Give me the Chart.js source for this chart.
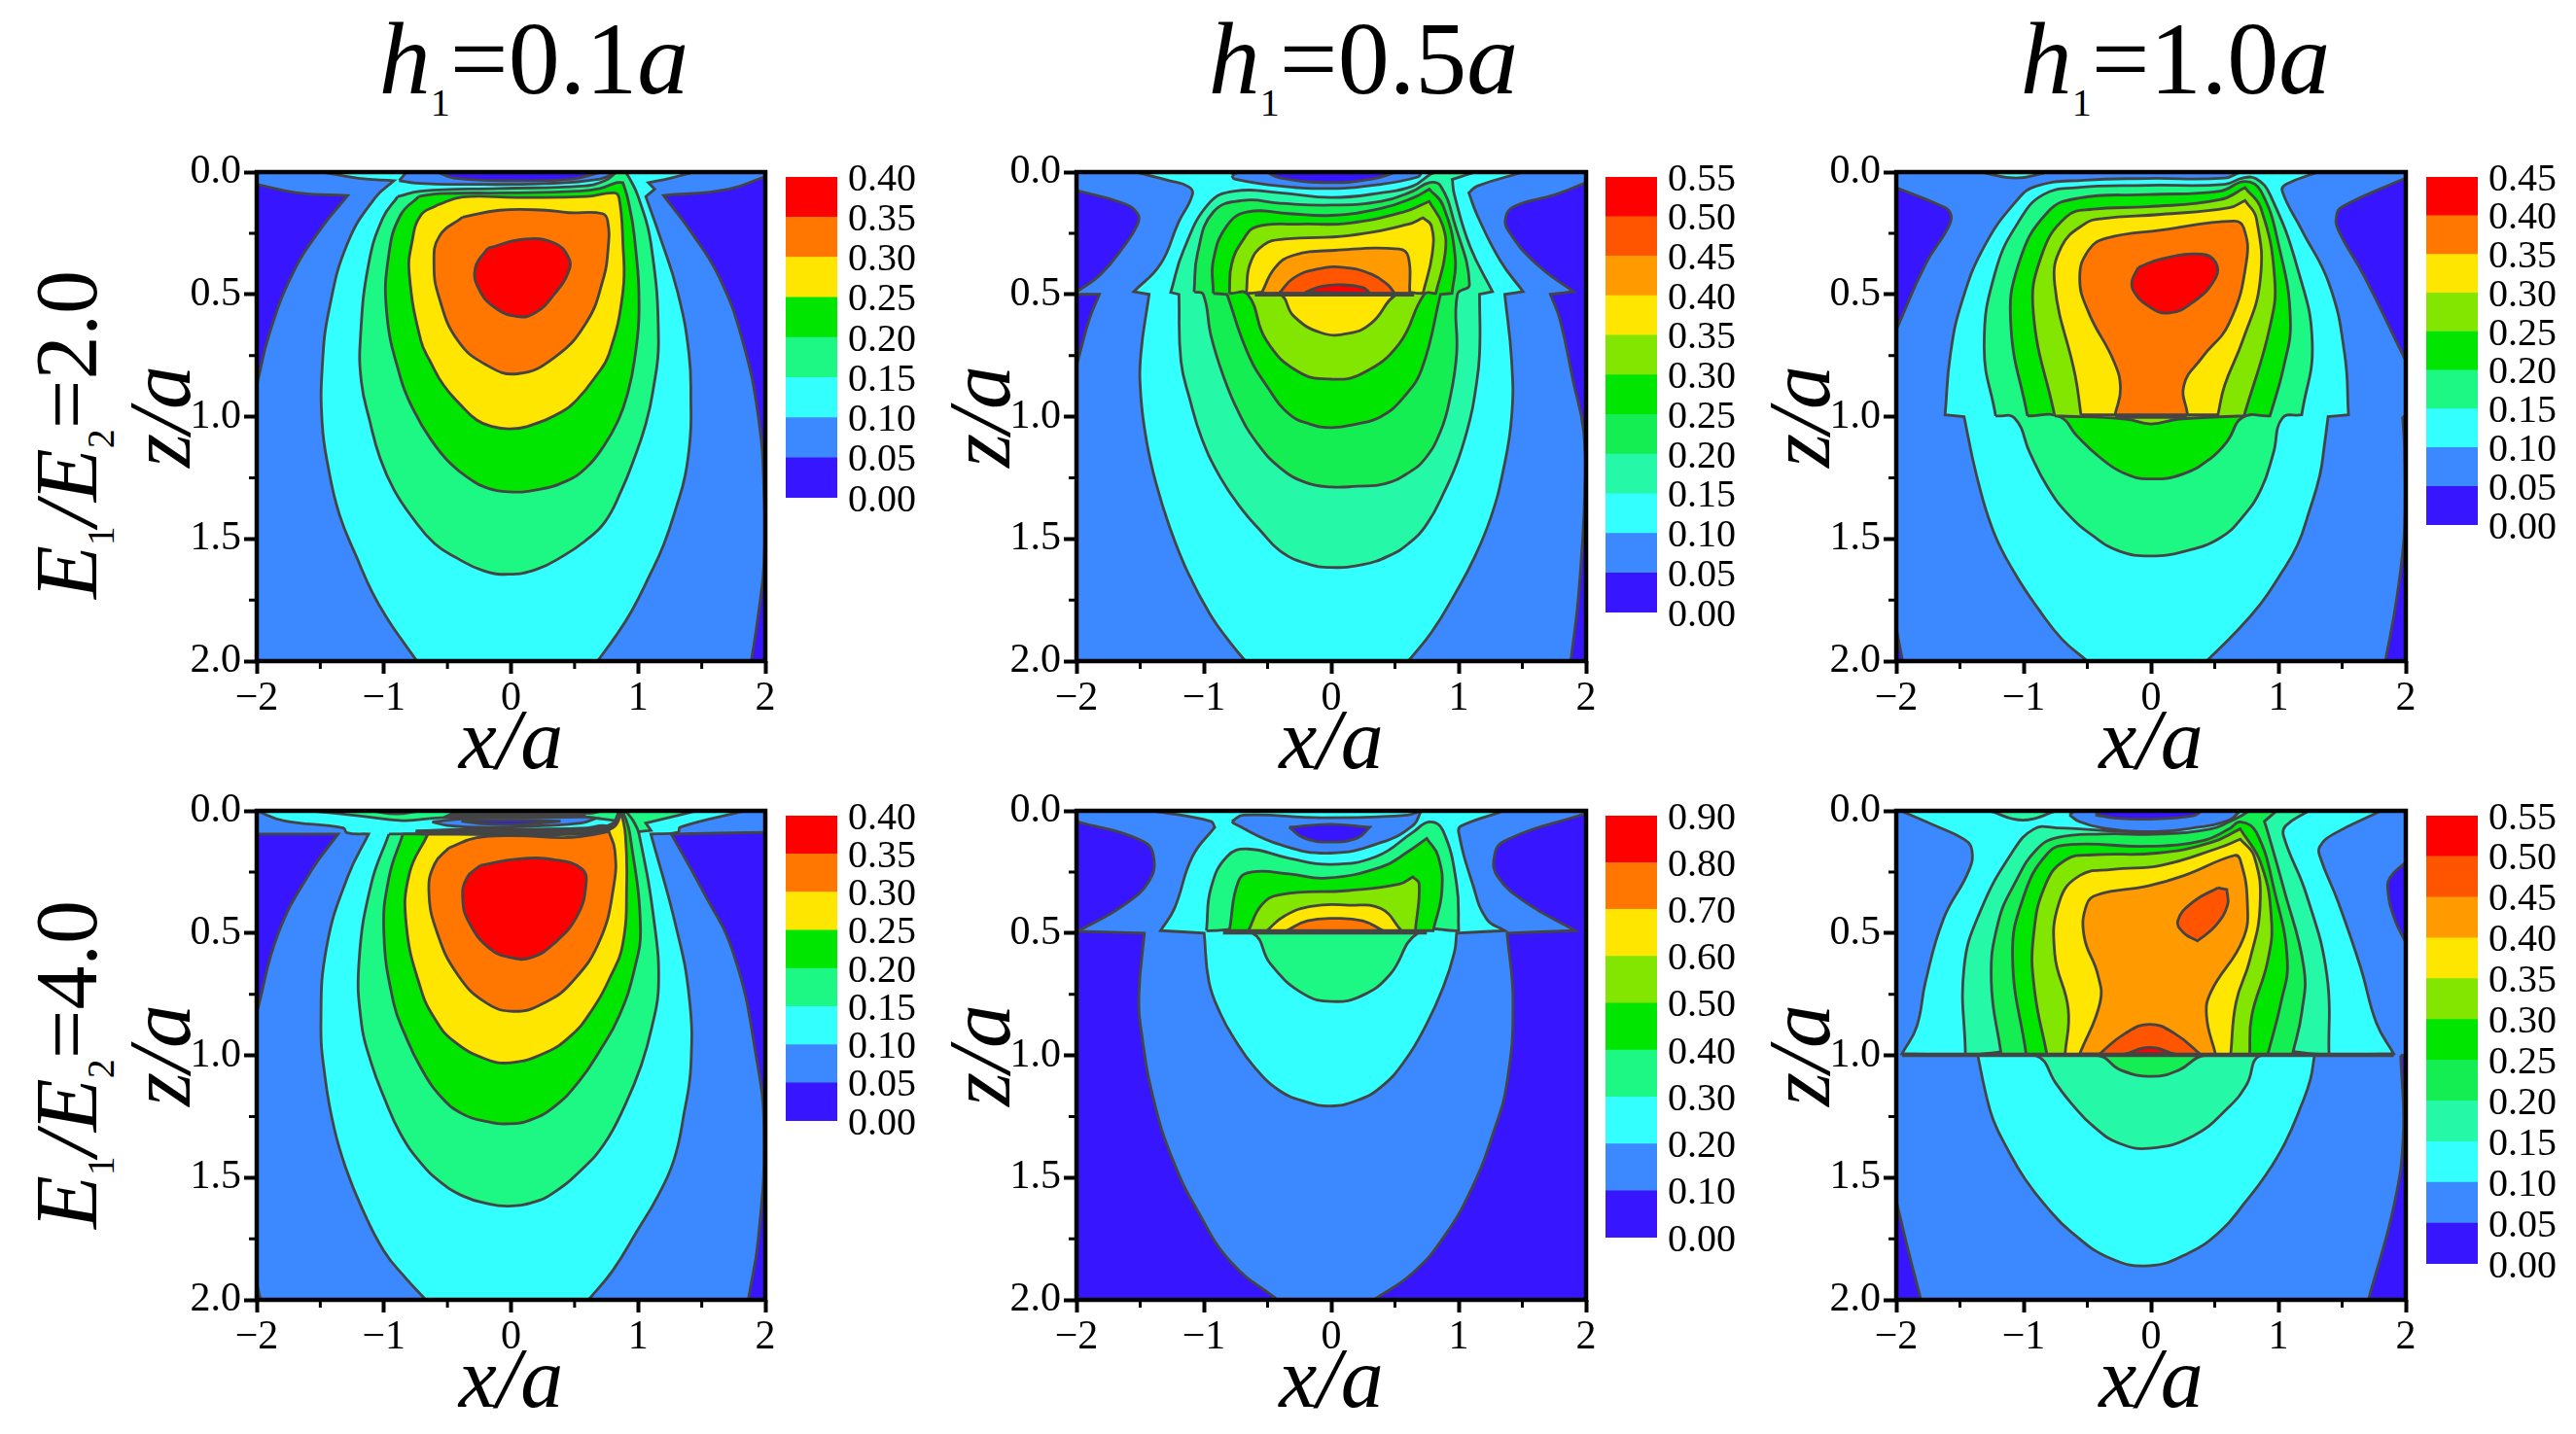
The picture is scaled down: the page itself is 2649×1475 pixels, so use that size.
<!DOCTYPE html>
<html>
<head>
<meta charset="utf-8">
<script src="https://cdn.jsdelivr.net/npm/chart.js@4/dist/chart.umd.js"></script>
<style>
  html, body { margin:0; padding:0; background:#fff; }
  #page { position:relative; width:2649px; height:1475px; overflow:hidden; font-family:"Liberation Serif",serif; color:#000; }
  canvas { position:absolute; }
  .head { position:absolute; font-size:106px; line-height:1; white-space:nowrap; transform:translateX(-50%); }
  .head i { font-style:italic; }
  .head sub { font-size:40px; line-height:0; vertical-align:-23px; }
  .row { position:absolute; font-size:90px; line-height:1; white-space:nowrap; transform:translate(-50%,-50%) rotate(-90deg); }
  .row sub { font-size:40px; line-height:0; vertical-align:-18px; }
</style>
</head>
<body>
<div id="page">
  <div class="head" style="left:549px;top:8px"><i>h</i><sub>1</sub>=0.1<i>a</i></div>
  <div class="head" style="left:1402px;top:8px"><i>h</i><sub>1</sub>=0.5<i>a</i></div>
  <div class="head" style="left:2237px;top:8px"><i>h</i><sub>1</sub>=1.0<i>a</i></div>
  <div class="row" style="left:69px;top:447px"><i>E</i><sub>1</sub><i>/E</i><sub>2</sub>=2.0</div>
  <div class="row" style="left:69px;top:1095px"><i>E</i><sub>1</sub><i>/E</i><sub>2</sub>=4.0</div>
</div>
<script>
// tick values
const xTicks = [-2, -1, 0, 1, 2];
const zTicks = [0, 0.5, 1, 1.5, 2];
const xMinor = [-1.5, -0.5, 0.5, 1.5];
const zMinor = [0.25, 0.75, 1.25, 1.75];

// colour bar levels
const levels040 = [0, 0.05, 0.1, 0.15, 0.2, 0.25, 0.3, 0.35, 0.4];
const levels045 = [0, 0.05, 0.1, 0.15, 0.2, 0.25, 0.3, 0.35, 0.4, 0.45];
const levels055 = [0, 0.05, 0.1, 0.15, 0.2, 0.25, 0.3, 0.35, 0.4, 0.45, 0.5, 0.55];
const levels090 = [0, 0.1, 0.2, 0.3, 0.4, 0.5, 0.6, 0.7, 0.8, 0.9];

const DARK = "#3716ff", BLUE = "#3b88ff", CYAN = "#33ffff", SPRING = "#1df783", SPRING1 = "#25f9a8", SPRING2 = "#14ee52";
const GREEN = "#00e600", LIME = "#82e600", YELLOW = "#ffe600", ORANGE = "#ff7700", ORANGE2 = "#ff9a00", REDOR = "#ff5500", RED = "#ff0000";
const GRAY = "#444444";

const colors8  = [DARK, BLUE, CYAN, SPRING, GREEN, YELLOW, ORANGE, RED];
const colors9  = [DARK, BLUE, CYAN, SPRING, GREEN, LIME, YELLOW, ORANGE, RED];
const colors11 = [DARK, BLUE, CYAN, SPRING1, SPRING2, GREEN, LIME, YELLOW, ORANGE2, REDOR, RED];

const wholePlot = [[-2,0],[2,0],[2,2],[-2,2]];

// h1=0.1a, E1/E2=2.0  (contours read as x/a, z/a)
const a_darkL = [[-2,.05],[-1.68,.085],[-1.285,.096],[-1.5,.234],[-1.72,.418],[-1.9,.66],[-2,.872]];
const a_darkR = [[2,.018],[1.71,.07],[1.2,.096],[1.42,.248],[1.64,.433],[1.82,.688],[1.945,1],[1.99,1.312],[1.99,1.596],[1.945,1.81],[1.89,2],[2,2]];
const a_cyan = [[-1.48,0],[-1.2,.025],[-.92,.035],[-1.07,.106],[-1.285,.29],[-1.43,.56],[-1.485,.8],[-1.485,1.03],[-1.44,1.2],[-1.35,1.4],[-1.21,1.58],[-1.09,1.72],[-.96,1.837],[-.85,1.92],[-.74,2],[.68,2],[.82,1.9],[.95,1.794],[1.09,1.65],[1.2,1.525],[1.3,1.37],[1.37,1.24],[1.41,1.08],[1.415,.957],[1.4,.745],[1.31,.49],[1.17,.262],[1.06,.1],[1.13,.07],[1.08,.043],[1.25,.025],[1.44,0]];
const a_lens = [[-.88,.035],[-.82,0],[.83,0],[.7,.028],[.27,.047],[-.38,.05],[-.75,.045]];
const a_lensDark = [[-.58,0],[-.45,.024],[.05,.035],[.48,.028],[.72,0]];
const a_spring = [[-.89,.1],[-.71,.078],[-.09,.067],[.56,.057],[.74,.035],[.83,0],[.9,0],[.935,.028],[1,.1],[1.1,.29],[1.16,.688],[1.115,.9],[1.06,1.03],[.97,1.17],[.87,1.3],[.74,1.43],[.58,1.51],[.41,1.57],[.2,1.625],[-.02,1.645],[-.22,1.63],[-.42,1.58],[-.6,1.52],[-.78,1.41],[-.92,1.3],[-1.03,1.17],[-1.11,1.02],[-1.177,.858],[-1.184,.674],[-1.12,.376],[-1.01,.19]];
const a_green = [[-.726,.1],[-.56,.088],[-.02,.085],[.52,.078],[.7,.067],[.83,.043],[.88,.043],[.917,.106],[.97,.262],[1.007,.56],[.97,.773],[.92,.9],[.845,1.014],[.73,1.12],[.59,1.21],[.43,1.265],[.2,1.3],[-.02,1.308],[-.2,1.29],[-.31,1.26],[-.48,1.19],[-.635,1.09],[-.76,.98],[-.87,.84],[-.978,.574],[-.96,.333],[-.87,.177]];
const a_yellow = [[-.58,.135],[-.38,.102],[.05,.104],[.59,.1],[.81,.085],[.85,.106],[.88,.29],[.88,.49],[.77,.745],[.66,.84],[.52,.93],[.4,.98],[.13,1.04],[-.02,1.05],[-.15,1.04],[-.27,1.014],[-.4,.95],[-.53,.872],[-.63,.78],[-.71,.688],[-.8,.418],[-.78,.29],[-.71,.177]];
const a_orange = [[-.38,.184],[-.09,.156],[.27,.156],[.45,.166],[.72,.17],[.76,.2],[.765,.305],[.72,.447],[.59,.617],[.34,.759],[.05,.825],[-.2,.787],[-.42,.688],[-.563,.518],[-.606,.376],[-.563,.262]];
const a_red = [[-.184,.312],[.105,.274],[.34,.29],[.45,.347],[.455,.404],[.34,.5],[.195,.574],[.05,.591],[-.13,.553],[-.256,.475],[-.28,.39]];

// h1=0.5a, E1/E2=2.0
const b_darkL = [[-2,.075],[-1.63,.128],[-1.52,.17],[-1.52,.213],[-1.63,.305],[-1.81,.418],[-1.99,.487],[-2,.49]];
const b_darkL2 = [[-2,.5],[-1.82,.5],[-1.9,.603],[-1.99,.773],[-2,.79]];
const b_darkR = [[2,.043],[1.76,.092],[1.43,.142],[1.37,.184],[1.39,.24],[1.61,.376],[1.9,.489],[1.72,.5],[1.795,.603],[1.9,.858],[1.98,1.057],[1.99,1.31],[1.94,1.738],[1.88,2],[2,2]];
const b_cyan = [[-1.54,0],[-1.27,.035],[-1.12,.06],[-1.09,.092],[-1.2,.206],[-1.34,.376],[-1.55,.489],[-1.43,.5],[-1.495,.745],[-1.495,.915],[-1.45,1.1],[-1.377,1.27],[-1.27,1.45],[-1.124,1.64],[-.95,1.81],[-.8,1.92],[-.674,2],[.605,2],[.79,1.88],[.966,1.73],[1.12,1.58],[1.254,1.41],[1.35,1.22],[1.416,1],[1.416,.773],[1.362,.5],[1.506,.489],[1.326,.362],[1.146,.177],[1.08,.085],[1.146,.057],[1.506,0]];
const b_lens = [[-.78,.014],[-.73,0],[.71,0],[.68,.02],[.39,.05],[-.01,.067],[-.4,.057],[-.76,.028]];
const b_lensDark = [[-.51,0],[-.4,.024],[0,.043],[.32,.028],[.515,0]];
const b_spring1 = [[1.13,0],[.95,.03],[.966,.092],[1.09,.305],[1.265,.489],[1.164,.5],[1.164,.745],[1.13,.9],[1.09,1.01],[1,1.17],[.894,1.3],[.75,1.44],[.605,1.52],[.45,1.57],[.25,1.605],[0,1.617],[-.2,1.6],[-.4,1.55],[-.55,1.47],[-.7,1.38],[-.87,1.25],[-1.016,1.09],[-1.11,.93],[-1.18,.773],[-1.196,.5],[-1.26,.492],[-1.16,.32],[-.96,.128],[-.76,.078],[-.4,.085],[0,.104],[.39,.085],[.64,.057],[.785,.007],[.84,0]];
const b_spring2 = [[-1.077,.49],[-1.05,.333],[-.926,.163],[-.69,.116],[-.4,.128],[0,.135],[.39,.12],[.64,.078],[.77,.043],[.858,.057],[.966,.206],[1.085,.46],[.99,.5],[.984,.745],[.93,.93],[.858,1.06],[.74,1.17],[.605,1.23],[.42,1.275],[.2,1.285],[0,1.288],[-.2,1.27],[-.4,1.21],[-.58,1.11],[-.73,.98],[-.85,.83],[-.944,.67],[-1.005,.5]];
const b_green = [[-.926,.496],[-.926,.362],[-.82,.22],[-.656,.163],[-.33,.17],[0,.177],[.39,.149],[.64,.106],[.77,.07],[.876,.135],[.973,.348],[.948,.496],[.858,.5],[.714,.8],[.57,.92],[.39,1],[.2,1.03],[0,1.045],[-.17,1.03],[-.33,.99],[-.5,.88],[-.656,.74],[-.818,.5]];
const b_lime = [[-.8,.496],[-.782,.376],[-.692,.277],[-.584,.223],[-.26,.213],[.137,.209],[.57,.163],[.768,.12],[.876,.22],[.894,.333],[.82,.496],[.73,.5],[.533,.702],[.245,.823],[0,.847],[-.26,.816],[-.51,.688],[-.656,.5]];
const b_yellow = [[-.667,.496],[-.638,.376],[-.53,.298],[-.368,.274],[.137,.26],[.605,.213],[.72,.187],[.786,.22],[.793,.333],[.72,.496],[.515,.5],[.317,.617],[.137,.66],[-.08,.657],[-.295,.589],[-.404,.5]];
const b_orange = [[-.548,.496],[-.44,.39],[-.295,.34],[.03,.32],[.533,.315],[.605,.347],[.616,.496]];
const b_redor = [[-.41,.496],[-.295,.433],[-.115,.397],[.1,.39],[.317,.418],[.443,.461],[.497,.496]];
const b_red = [[-.205,.492],[-.08,.468],[.065,.461],[.245,.472],[.306,.496]];
const b_line = [[-.6,.5],[.65,.5]];

// h1=1.0a, E1/E2=2.0
const c_darkL = [[-2,.064],[-1.66,.135],[-1.58,.163],[-1.58,.213],[-1.77,.376],[-2,.645]];
const c_darkR = [[2,.024],[1.5,.142],[1.457,.177],[1.468,.234],[1.68,.433],[2,.773]];
const c_darkR2 = [[1.975,1],[2,1],[2,2],[1.84,2],[1.93,1.738],[1.99,1.454],[1.99,1.14]];
const c_darkB = [[-2,1.865],[-1.95,2],[-2,2]];
const c_lens = [[-1.34,0],[-1.06,.024],[-.81,0]];
const c_cyan = [[1.31,0],[1.06,.05],[1.03,.078],[1.18,.234],[1.4,.46],[1.52,.745],[1.55,.993],[1.39,1],[1.36,1.12],[1.325,1.24],[1.24,1.39],[1.15,1.525],[1.01,1.65],[.86,1.766],[.65,1.89],[.436,2],[-.5,2],[-.7,1.91],[-.88,1.79],[-1.07,1.64],[-1.237,1.47],[-1.37,1.24],[-1.468,1],[-1.617,.993],[-1.575,.745],[-1.486,.532],[-1.31,.305],[-1.06,.12],[-.9,.057],[-.525,.033],[-.03,.026],[.578,.024],[.7,0]];
const c_spring = [[-1.22,.997],[-1.31,.716],[-1.22,.404],[-1.024,.19],[-.845,.092],[-.596,.064],[-.03,.054],[.578,.05],[.72,.024],[.827,.028],[.934,.092],[1.148,.39],[1.266,.702],[1.183,.993],[1.03,1.007],[.96,1.15],[.863,1.298],[.72,1.41],[.543,1.496],[.27,1.55],[-.01,1.57],[-.25,1.55],[-.45,1.49],[-.65,1.4],[-.81,1.29],[-.95,1.15],[-1.07,1.007]];
const c_green = [[-.97,.997],[-1.1,.631],[-1.04,.376],[-.81,.163],[-.56,.106],[-.03,.092],[.54,.078],[.738,.038],[.863,.078],[1.005,.305],[1.094,.603],[1.04,.8],[.934,.997],[.72,1.003],[.6,1.1],[.47,1.17],[.25,1.235],[-.01,1.255],[-.22,1.23],[-.418,1.16],[-.58,1.08],[-.72,1]];
const c_lime = [[-.756,.997],[-.924,.574],[-.863,.347],[-.667,.184],[-.454,.152],[-.027,.142],[.54,.113],[.738,.064],[.863,.149],[.97,.433],[.934,.631],[.73,.997],[.22,1.01],[0,1.03],[-.2,1.01]];
const c_yellow = [[-.55,.993],[-.596,.83],[-.756,.46],[-.703,.305],[-.525,.213],[-.383,.19],[.08,.173],[.614,.146],[.738,.116],[.827,.19],[.856,.447],[.72,.688],[.578,.872],[.525,.993]];
const c_orange = [[-.283,.993],[-.24,.886],[-.293,.773],[-.49,.574],[-.56,.433],[-.49,.319],[-.347,.27],[.08,.237],[.65,.2],[.727,.227],[.75,.362],[.614,.617],[.4,.759],[.258,.872],[.287,.993]];
const c_red = [[-.1,.39],[.08,.355],[.4,.336],[.507,.369],[.507,.433],[.33,.532],[.133,.577],[-.027,.546],[-.134,.489],[-.15,.447]];
const c_line = [[-.28,1],[.28,1]];

// h1=0.1a, E1/E2=4.0
const d_darkL = [[-2,.095],[-1.36,.095],[-1.57,.244],[-1.83,.5],[-2,.826]];
const d_darkR = [[2,.088],[1.26,.095],[1.495,.315],[1.75,.585],[1.93,1.01],[1.99,1.32],[1.945,1.75],[1.866,2],[2,2]];
const d_darkB = [[-2,1.93],[-1.97,2],[-2,2]];
const d_cyan = [[-2,0],[-1.79,.04],[-1.32,.07],[-1.29,.09],[-1.12,.095],[-1.285,.27],[-1.45,.556],[-1.495,.868],[-1.46,1.1],[-1.39,1.3],[-1.3,1.46],[-1.177,1.62],[-1,1.8],[-.83,1.91],[-.67,2],[.61,2],[.8,1.88],[.99,1.72],[1.15,1.58],[1.28,1.43],[1.36,1.24],[1.415,1.04],[1.4,.755],[1.296,.47],[1.1,.095],[1.314,.088],[1.33,.067],[1.84,0]];
const d_stripL = [[-1.58,0],[-1.2,.02],[-.85,.04],[-.55,.028],[.6,.028],[.82,.04],[.85,0]];
const d_stripR = [[.85,0],[1.46,0],[1.06,.05],[1.1,.08],[.92,.09]];
const d_sliver1 = [[-1.1,0],[-.9,.012],[-.72,0]];
const d_sliver2 = [[.5,0],[.62,.01],[.72,0]];
const d_bandTop = [[-.42,0],[.62,0],[.55,.02],[.2,.026],[-.2,.028],[-.5,.02]];
const d_lens = [[-.62,.045],[-.3,.03],[.2,.028],[.6,.025],[.67,.03],[.55,.05],[.2,.062],[-.2,.068],[-.5,.06]];
const d_lensDark = [[-.39,.042],[0,.038],[.39,.042],[.2,.052],[0,.056],[-.25,.052]];
const d_spring = [[-.96,.095],[-1.1,.3],[-1.195,.613],[-1.177,.868],[-1.1,1.03],[-1,1.17],[-.87,1.32],[-.71,1.44],[-.55,1.52],[-.38,1.575],[-.2,1.605],[-.02,1.617],[.18,1.6],[.34,1.56],[.55,1.47],[.736,1.36],[.9,1.2],[1.025,1.04],[1.11,.88],[1.16,.72],[1.13,.47],[1.007,.095],[.96,.04],[.9,.0],[.84,.04],[.6,.08]];
const d_green = [[-.85,.095],[-.96,.273],[-1,.5],[-.924,.784],[-.83,.92],[-.71,1.05],[-.55,1.17],[-.38,1.24],[-.2,1.27],[-.02,1.28],[.15,1.265],[.34,1.21],[.53,1.11],[.7,.98],[.85,.84],[.97,.65],[1.018,.47],[.935,.095],[.9,.03],[.87,0],[.82,.05],[.6,.09]];
const d_band = [[-.75,.082],[-.3,.075],[.2,.075],[.6,.07],[.72,.06],[.8,.07],[.6,.095],[.2,.098],[-.3,.098],[-.7,.095]];
const d_yellow = [[-.653,.095],[-.8,.258],[-.823,.47],[-.71,.727],[-.6,.85],[-.455,.94],[-.2,1.015],[0,1.03],[.267,.99],[.47,.92],[.63,.82],[.78,.68],[.88,.542],[.91,.287],[.9,.1],[.87,.01],[.8,.07],[.6,.095]];
const d_orange = [[-.49,.152],[-.27,.11],[.05,.102],[.41,.11],[.59,.102],[.77,.085],[.816,.16],[.81,.3],[.7,.528],[.484,.698],[.267,.784],[.03,.82],[-.2,.784],[-.42,.67],[-.58,.5],[-.646,.33],[-.6,.216]];
const d_red = [[-.24,.223],[.05,.197],[.34,.2],[.556,.237],[.59,.3],[.52,.43],[.34,.542],[.16,.6],[.014,.602],[-.166,.564],[-.33,.457],[-.38,.358],[-.346,.273]];

// h1=0.5a, E1/E2=4.0
const e_blue = [[-2,0],[-2,.043],[-1.483,.123],[-1.395,.187],[-1.43,.287],[-1.63,.386],[-1.99,.493],[-1.467,.5],[-1.51,.755],[-1.485,.925],[-1.395,1.18],[-1.25,1.42],[-1.05,1.635],[-.78,1.85],[-.42,2],[.335,2],[.64,1.89],[.894,1.735],[1.11,1.536],[1.27,1.32],[1.38,1.11],[1.427,.784],[1.38,.5],[1.914,.49],[1.54,.379],[1.31,.272],[1.28,.187],[1.36,.123],[2,.01],[2,0]];
const e_cyan = [[-1.395,0],[-.944,.043],[-.915,.067],[-1.09,.187],[-1.232,.4],[-1.34,.49],[-.998,.5],[-.96,.7],[-.87,.83],[-.764,.93],[-.6,1.05],[-.404,1.145],[-.2,1.19],[-.007,1.207],[.2,1.185],[.39,1.13],[.58,1.02],[.75,.87],[.88,.72],[.966,.58],[.984,.5],[1.362,.49],[1.22,.443],[1.11,.3],[1,.088],[1.02,.062],[1.36,0]];
const e_lens = [[-.78,.043],[-.69,.017],[-.08,.028],[.6,.017],[.706,0],[.64,.06],[.39,.13],[-.007,.173],[-.404,.138],[-.764,.052]];
const e_lensDark = [[-.33,.067],[-.007,.055],[.3,.067],[.21,.11],[-.007,.128],[-.22,.11]];
const e_spring = [[-.98,.49],[-.944,.315],[-.818,.187],[-.656,.156],[-.33,.194],[-.007,.219],[.353,.187],[.64,.088],[.77,.045],[.876,.08],[.984,.3],[1,.49],[.68,.5],[.46,.67],[.245,.755],[.01,.78],[-.22,.748],[-.476,.627],[-.62,.5]];
const e_green = [[-.8,.49],[-.728,.287],[-.62,.25],[-.33,.258],[-.04,.275],[.39,.23],[.605,.166],[.75,.113],[.84,.187],[.868,.33],[.8,.49]];
const e_lime = [[-.65,.49],[-.548,.386],[-.404,.343],[.137,.326],[.533,.3],[.64,.27],[.69,.3],[.66,.49]];
const e_yellow = [[-.505,.49],[-.368,.43],[-.15,.39],[.137,.386],[.39,.4],[.55,.49]];
const e_orange = [[-.35,.49],[-.187,.45],[.03,.44],[.245,.45],[.407,.49]];
const e_line = [[-.85,.497],[.75,.497]];

// h1=1.0a, E1/E2=4.0
const f_darkR = [[2,.21],[1.877,.272],[1.86,.33],[1.91,.44],[2,.54]];
const f_darkR2 = [[1.96,1],[1.98,1.32],[1.91,1.607],[1.706,2],[2,2],[2,1]];
const f_darkB = [[-2,1.594],[-1.91,1.79],[-1.806,2],[-2,2]];
const f_cyan = [[-1.965,0],[-1.7,.06],[-1.47,.116],[-1.407,.159],[-1.43,.244],[-1.63,.443],[-1.77,.698],[-1.84,.883],[-1.955,.994],[-1.36,1],[-1.3,1.15],[-1.237,1.266],[-1.12,1.39],[-.988,1.507],[-.82,1.62],[-.632,1.72],[-.32,1.83],[-.01,1.86],[.29,1.81],[.543,1.72],[.74,1.6],[.9,1.49],[1.05,1.36],[1.183,1.2],[1.25,1.1],[1.283,1],[1.905,.994],[1.77,.869],[1.646,.642],[1.468,.372],[1.326,.187],[1.326,.145],[1.433,.095],[1.806,0]];
const f_lens = [[-.64,.017],[-.6,0],[.7,0],[.614,.038],[.33,.07],[-.027,.085],[-.383,.07],[-.56,.045]];
const f_lensDark = [[-.436,.017],[-.38,0],[.4,0],[.33,.02],[-.027,.034],[-.275,.03]];
const f_spring0 = [[-1.27,0],[-1.005,.038],[-.74,0]];
const f_spring1 = [[-1.457,.997],[-1.468,.642],[-1.343,.414],[-1.094,.173],[-.917,.074],[-.74,.07],[-.03,.088],[.54,.074],[.7,0],[1.237,0],[1.06,.06],[1.04,.102],[1.22,.343],[1.38,.67],[1.397,.997],[.863,1],[.75,1.12],[.614,1.21],[.33,1.33],[-.01,1.38],[-.25,1.36],[-.454,1.29],[-.62,1.2],[-.74,1.12],[-.91,1]];
const f_spring2 = [[-1.176,.997],[-1.254,.698],[-1.2,.457],[-1.06,.287],[-.9,.159],[-.74,.11],[-.38,.095],[.08,.095],[.47,.074],[.614,.045],[.72,.017],[.77,0],[.987,0],[.89,.043],[.917,.088],[1.04,.315],[1.2,.642],[1.183,.826],[1.11,.997],[.42,1],[.22,1.06],[.01,1.086],[-.24,1.06],[-.418,1]];
const f_green = [[-.98,.997],[-1.087,.6],[-1.005,.358],[-.81,.173],[-.632,.138],[-.027,.145],[.4,.123],[.614,.074],[.7,.045],[.827,.088],[.97,.33],[1.07,.613],[1.02,.784],[.916,.997]];
const f_lime = [[-.817,.997],[-.916,.727],[-.923,.514],[-.827,.3],[-.667,.2],[-.454,.18],[.044,.173],[.47,.13],[.7,.074],[.863,.216],[.945,.443],[.916,.613],[.79,.84],[.774,.997]];
const f_yellow = [[-.675,.997],[-.65,.812],[-.756,.585],[-.72,.372],[-.56,.265],[-.31,.24],[.08,.223],[.54,.15],[.7,.116],[.81,.187],[.856,.386],[.774,.613],[.667,.784],[.625,.997]];
const f_orange = [[-.56,.994],[-.4,.784],[-.418,.67],[-.525,.514],[-.507,.386],[-.418,.343],[-.027,.308],[.258,.265],[.65,.183],[.7,.2],[.756,.372],[.72,.528],[.47,.741],[.436,.84],[.507,.997]];
const f_peak = [[.525,.315],[.595,.322],[.6,.386],[.507,.47],[.365,.532],[.258,.5],[.21,.45],[.33,.372]];
const f_redor = [[-.41,.997],[-.205,.911],[-.01,.873],[.186,.911],[.39,.997]];
const f_red = [[-.205,.994],[-.01,.968],[.186,.994]];
const f_line = [[-1.955,.998],[1.905,.998]];

// one entry per sheet, painted first to last
const panels = [
  { box:[264,787,176.5,680], bar:[808,861,182,512], levels:levels040, colors:colors8, layers:[
    [wholePlot,BLUE],[a_darkL,DARK],[a_darkR,DARK],[a_cyan,CYAN],[a_lens,BLUE],[a_lensDark,DARK],[a_spring,SPRING],[a_green,GREEN],[a_yellow,YELLOW],[a_orange,ORANGE],[a_red,RED]] },
  { box:[1107,1631,176.5,680], bar:[1651,1704,182,630], levels:levels055, colors:colors11, layers:[
    [wholePlot,BLUE],[b_darkL,DARK],[b_darkL2,DARK],[b_darkR,DARK],[b_cyan,CYAN],[b_lens,BLUE],[b_lensDark,DARK],[b_spring1,SPRING1],[b_spring2,SPRING2],[b_green,GREEN],[b_lime,LIME],[b_yellow,YELLOW],[b_orange,ORANGE2],[b_redor,REDOR],[b_red,RED],[b_line,null]] },
  { box:[1950,2474,176.5,680], bar:[2495,2548,182,540], levels:levels045, colors:colors9, layers:[
    [wholePlot,BLUE],[c_darkL,DARK],[c_darkR,DARK],[c_darkR2,DARK],[c_darkB,DARK],[c_lens,CYAN],[c_cyan,CYAN],[c_spring,SPRING],[c_green,GREEN],[c_lime,LIME],[c_yellow,YELLOW],[c_orange,ORANGE],[c_red,RED],[c_line,null]] },
  { box:[264,787,834,1337], bar:[808,861,839,1153], levels:levels040, colors:colors8, layers:[
    [wholePlot,BLUE],[d_darkL,DARK],[d_darkR,DARK],[d_darkB,DARK],[d_cyan,CYAN],[d_stripL,SPRING],[d_stripR,SPRING],[d_sliver1,GREEN],[d_sliver2,GREEN],[d_bandTop,GRAY],[d_lens,BLUE],[d_lensDark,DARK],[d_spring,SPRING],[d_green,GREEN],[d_band,GRAY],[d_yellow,YELLOW],[d_orange,ORANGE],[d_red,RED]] },
  { box:[1107,1631,834,1337], bar:[1651,1704,839,1273], levels:levels090, colors:colors9, layers:[
    [wholePlot,DARK],[e_blue,BLUE],[e_cyan,CYAN],[e_lens,BLUE],[e_lensDark,DARK],[e_spring,SPRING],[e_green,GREEN],[e_lime,LIME],[e_yellow,YELLOW],[e_orange,ORANGE],[e_line,null]] },
  { box:[1950,2474,834,1337], bar:[2495,2548,839,1300], levels:levels055, colors:colors11, layers:[
    [wholePlot,BLUE],[f_darkR,DARK],[f_darkR2,DARK],[f_darkB,DARK],[f_cyan,CYAN],[f_lens,BLUE],[f_lensDark,DARK],[f_spring0,SPRING1],[f_spring1,SPRING1],[f_spring2,SPRING2],[f_green,GREEN],[f_lime,LIME],[f_yellow,YELLOW],[f_orange,ORANGE2],[f_peak,REDOR],[f_redor,REDOR],[f_red,RED],[f_line,null]] }
];

const SERIF = "'Liberation Serif', serif";
const page = document.getElementById("page");

function addCanvas(x, y, w, h) {
  const c = document.createElement("canvas");
  c.width = w; c.height = h;
  c.style.left = x + "px"; c.style.top = y + "px";
  c.style.width = w + "px"; c.style.height = h + "px";
  page.appendChild(c);
  return c;
}

// doubled points keep the spline sharp at kinks and on the plot edge
function shapePoints(pts) {
  const n = pts.length, out = [];
  for (let i = 0; i < n; i++) {
    const p = pts[i], a = pts[(i + n - 1) % n], b = pts[(i + 1) % n];
    const ux = (p[0] - a[0]) * 131, uy = (p[1] - a[1]) * 251;
    const vx = (b[0] - p[0]) * 131, vy = (b[1] - p[1]) * 251;
    const cos = (ux * vx + uy * vy) / (Math.hypot(ux, uy) * Math.hypot(vx, vy));
    const onEdge = Math.abs(p[0]) >= 2 || p[1] <= 0 || p[1] >= 2;
    out.push({ x: p[0], y: p[1] });
    if (onEdge || cos < 0.4) out.push({ x: p[0], y: p[1] });
  }
  out.push({ x: pts[0][0], y: pts[0][1] });
  return out;
}

const framePlugin = {
  id: "frame",
  afterDatasetsDraw(chart) {
    const { ctx, chartArea: ca, scales } = chart;
    ctx.save();
    ctx.strokeStyle = "#000";
    ctx.lineWidth = 4.5;
    ctx.strokeRect(ca.left, ca.top, ca.right - ca.left, ca.bottom - ca.top);
    ctx.lineWidth = 3;
    ctx.beginPath();
    xMinor.forEach(v => {
      const px = scales.x.getPixelForValue(v);
      ctx.moveTo(px, ca.bottom); ctx.lineTo(px, ca.bottom + 8);
    });
    zMinor.forEach(v => {
      const py = scales.y.getPixelForValue(v);
      ctx.moveTo(ca.left, py); ctx.lineTo(ca.left - 8, py);
    });
    ctx.stroke();
    ctx.restore();
  }
};

function drawPanel(p) {
  const [l, r, t, b] = p.box;
  const leftSpace = 147, rightSpace = 12, topSpace = 30, bottomSpace = 140;
  const cv = addCanvas(l - leftSpace, t - topSpace, r - l + leftSpace + rightSpace, b - t + topSpace + bottomSpace);
  const datasets = p.layers.map(([pts, color], i) => ({
    data: color ? shapePoints(pts) : pts.map(q => ({ x: q[0], y: q[1] })),
    order: p.layers.length - i,
    showLine: true,
    pointRadius: 0,
    tension: color ? 0.45 : 0,
    borderColor: GRAY,
    borderWidth: color ? 2.8 : 4.5,
    backgroundColor: color || "transparent",
    fill: color ? "shape" : false
  }));
  new Chart(cv, {
    type: "scatter",
    data: { datasets },
    plugins: [framePlugin],
    options: {
      responsive: false, animation: false, devicePixelRatio: 1,
      layout: { padding: { top: topSpace, right: rightSpace, left: 0, bottom: 0 } },
      plugins: { legend: { display: false }, tooltip: { enabled: false }, filler: { drawTime: "beforeDatasetDraw" } },
      scales: {
        x: {
          type: "linear", min: -2, max: 2,
          afterBuildTicks: s => { s.ticks = xTicks.map(v => ({ value: v })); },
          afterFit: s => { s.height = bottomSpace; },
          grid: { drawOnChartArea: false, tickLength: 13, tickWidth: 4, tickColor: "#000" },
          border: { display: false },
          ticks: { color: "#000", font: { family: SERIF, size: 42 }, padding: 1, maxRotation: 0,
            callback: v => String(v).replace("-", "\u2212") },
          title: { display: true, text: "x/a", color: "#000", font: { family: SERIF, size: 88, style: "italic" }, padding: { top: 0, bottom: 0 } }
        },
        y: {
          type: "linear", min: 0, max: 2, reverse: true,
          afterBuildTicks: s => { s.ticks = zTicks.map(v => ({ value: v })); },
          afterFit: s => { s.width = leftSpace; },
          grid: { drawOnChartArea: false, tickLength: 13, tickWidth: 4, tickColor: "#000" },
          border: { display: false },
          ticks: { color: "#000", font: { family: SERIF, size: 42 }, padding: 3, callback: v => v.toFixed(1) },
          title: { display: true, text: "z/a", color: "#000", font: { family: SERIF, size: 90, style: "italic" }, padding: { top: 0, bottom: 0 } }
        }
      }
    }
  });
}

function drawBar(p) {
  const [l, r, t, b] = p.bar;
  const pad = 44, labelSpace = 95;
  const cv = addCanvas(l, t - pad, r - l + labelSpace, b - t + 2 * pad);
  const datasets = p.colors.map((c, i) => ({
    data: [p.levels[i + 1] - p.levels[i]],
    backgroundColor: c,
    barPercentage: 1,
    categoryPercentage: 1
  }));
  new Chart(cv, {
    type: "bar",
    data: { labels: [""], datasets },
    options: {
      responsive: false, animation: false, devicePixelRatio: 1,
      layout: { padding: { top: pad, bottom: pad, left: 0, right: 0 } },
      plugins: { legend: { display: false }, tooltip: { enabled: false } },
      scales: {
        x: { stacked: true, display: false },
        y: {
          stacked: true, position: "right", min: 0, max: p.levels[p.levels.length - 1],
          afterBuildTicks: s => { s.ticks = p.levels.map(v => ({ value: v })); },
          afterFit: s => { s.width = labelSpace; },
          grid: { display: false, drawTicks: false },
          border: { display: false },
          ticks: { color: "#000", font: { family: SERIF, size: 40 }, padding: 11, autoSkip: false, labelOffset: 3, callback: v => v.toFixed(2) }
        }
      }
    }
  });
}

panels.forEach(p => { drawPanel(p); drawBar(p); });
</script>
</body>
</html>
